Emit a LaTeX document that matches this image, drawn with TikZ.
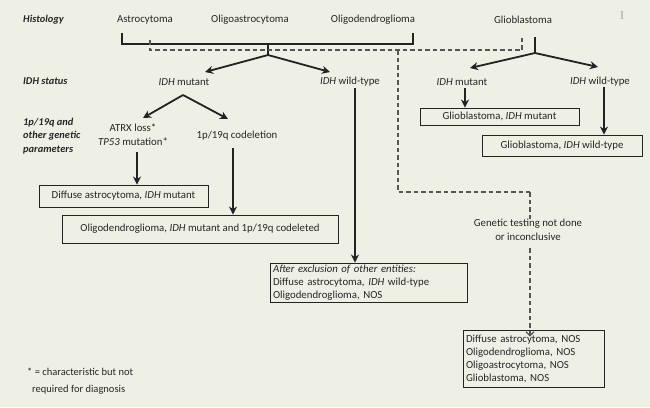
\documentclass[tikz,border=0pt]{standalone}
\usepackage{fontspec}
\setmainfont{Carlito}
\newfontfamily\curfont{Liberation Serif}
\usetikzlibrary{arrows.meta}
\definecolor{bgc}{RGB}{238,240,229}
\definecolor{linec}{RGB}{35,35,35}
\definecolor{textc}{RGB}{38,38,38}
\definecolor{dashc}{RGB}{85,85,85}
\begin{document}
\begin{tikzpicture}[x=1pt,y=-1pt,
  font=\fontsize{10.8}{13}\selectfont,
  txt/.style={inner sep=0pt, text=textc},
  lbl/.style={inner sep=0pt, text=textc, anchor=west, font=\fontsize{10.4}{13.5}\selectfont\bfseries\itshape, align=left},
  box/.style={draw=linec, line width=0.9pt, inner sep=0pt, text=textc},
  solid line/.style={draw=linec, line width=1.8pt},
  arr/.style={draw=linec, line width=1.8pt, -{Stealth[length=8pt,width=8pt,inset=2.5pt]}},
  dline/.style={draw=dashc, line width=1.2pt, dash pattern=on 4.5pt off 3pt},
  darr/.style={dline, -{Straight Barb[length=4pt,width=8pt]}}
]
\useasboundingbox[fill=bgc] (0,0) rectangle (650,407);

% row labels
\node[lbl] (hist) at (23,20) {Histology};
\node[lbl] (idhs) at (23,81) {IDH status};
\node[lbl] (pars) at (23,136) {1p/19q and\\other genetic\\parameters};

% histology
\node[txt] (astro) at (145,20) {Astrocytoma};
\node[txt] (oastro) at (250,20) {Oligoastrocytoma};
\node[txt] (odendro) at (373,20) {Oligodendroglioma};
\node[txt] (glio) at (523,20) {Glioblastoma};
\node[txt, text=gray!70, font=\fontsize{12}{12}\selectfont\curfont] (cursor) at (622,16) {I};

% bracket
\coordinate (bl) at (122,33);
\coordinate (br) at (413,33);
\coordinate (stem) at (268,44);
\coordinate (fork) at (268,55);
\draw[solid line] (bl) -- (122,44) -- (413,44) -- (br);
\draw[solid line] (stem) -- (fork);

% IDH left
\node[txt] (idhmL) at (184,82) {\textit{IDH} mutant};
\node[txt] (idhwL) at (350,82) {\textit{IDH} wild-type};
\coordinate (tipmL) at (205,72);
\coordinate (tipwL) at (330,72);
\draw[arr] (fork) -- (tipmL);
\draw[arr] (fork) -- (tipwL);

% dashed lines
\coordinate (dA) at (150,40);
\coordinate (dB) at (522,37);
\coordinate (dC) at (398,50);
\coordinate (dD) at (530,192);
\draw[dline] (dA) -- (150,50) -- (522,50) -- (dB);
\draw[dline] (dC) -- (398,192) -- (dD);

% genetic params
\coordinate (peak) at (183,95);
\coordinate (tipA) at (143,118);
\coordinate (tipB) at (228,119);
\draw[arr] (peak) -- (tipA);
\draw[arr] (peak) -- (tipB);
\node[txt, align=center, font=\fontsize{10.8}{14}\selectfont] (atrx) at (133,135) {ATRX loss*\\\textit{TP53} mutation*};
\node[txt] (codel) at (237,136) {1p/19q codeletion};

\node[box, minimum width=169pt, minimum height=22pt] (da) at (123.5,196) {Diffuse astrocytoma, \textit{IDH} mutant};
\node[box, minimum width=276pt, minimum height=28pt] (od) at (200,229) {Oligodendroglioma, \textit{IDH} mutant and 1p/19q codeleted};
\coordinate (a1s) at (137,152);
\coordinate (a2s) at (233,148);
\draw[arr] (a1s) -- (da.north -| a1s);
\draw[arr] (a2s) -- (od.north -| a2s);

% wild-type left
\node[box, minimum width=197pt, minimum height=39pt, align=left, text width=191pt, inner xsep=3pt] (after) at (368.5,282.5)
  {\textit{After exclusion of other entities:}\\Diffuse astrocytoma, \textit{IDH} wild-type\\Oligodendroglioma, NOS};
\coordinate (wts) at (355,88);
\draw[arr] (wts) -- (after.north -| wts);

% glioblastoma branch
\coordinate (gtop) at (535,37);
\coordinate (gfork) at (535,53);
\draw[solid line] (gtop) -- (gfork);
\node[txt] (idhmR) at (462,82) {\textit{IDH} mutant};
\node[txt] (idhwR) at (600,82) {\textit{IDH} wild-type};
\coordinate (tipmR) at (470,68);
\coordinate (tipwR) at (598,67);
\draw[arr] (gfork) -- (tipmR);
\draw[arr] (gfork) -- (tipwR);
\node[box, minimum width=159pt, minimum height=17pt] (gm) at (499.5,116.5) {Glioblastoma, \textit{IDH} mutant};
\node[box, minimum width=160pt, minimum height=21pt] (gw) at (562,145.5) {Glioblastoma, \textit{IDH} wild-type};
\coordinate (gms) at (465,88);
\coordinate (gws) at (604,87);
\draw[arr] (gms) -- (gm.north -| gms);
\draw[arr] (gws) -- (gw.north -| gws);

% genetic testing
\node[txt, align=center, font=\fontsize{10.8}{14}\selectfont] (gen) at (528,230) {Genetic testing not done\\or inconclusive};
\draw[dline] (dD) -- (gen.north -| dD);
\node[box, minimum width=141pt, minimum height=57pt, align=left, text width=135pt, inner xsep=3pt] (nos) at (533.5,358.5)
  {Diffuse astrocytoma, NOS\\Oligodendroglioma, NOS\\Oligoastrocytoma, NOS\\Glioblastoma, NOS};
\coordinate (gns) at (530,248);
\draw[darr] (gns) -- ([yshift=-7pt]nos.north -| gns);

% footnote
\node[txt, anchor=north west, align=left, font=\fontsize{10.5}{16.5}\selectfont] (foot) at (27,368) {* = characteristic but not\\\hspace*{5pt}required for diagnosis};
\end{tikzpicture}
\end{document}
